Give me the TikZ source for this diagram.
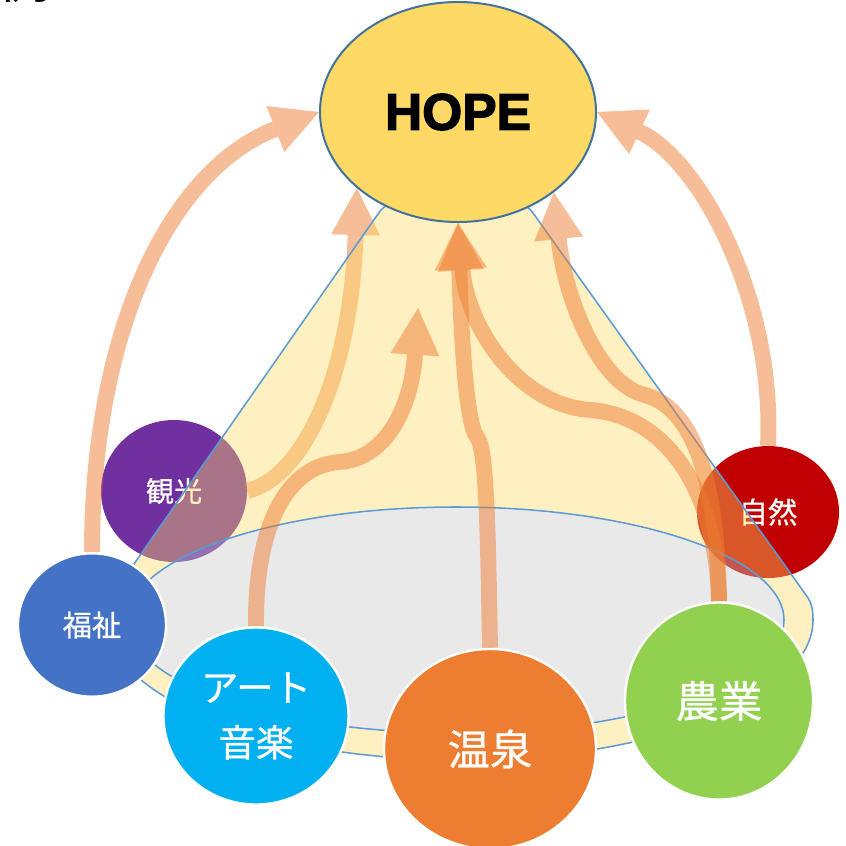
\documentclass[tikz,border=0pt]{standalone}
\usepackage{fontspec}
\newfontfamily\jp{Noto Sans CJK JP}[FakeBold=0.7]
\newfontfamily\hopefont{Liberation Sans}[BoldFeatures={FakeBold=2.5}]
\usepackage{xcolor}
\usepackage{tikz}
\usetikzlibrary{shapes.geometric,arrows.meta,backgrounds}
\definecolor{hopeyellow}{HTML}{FFD966}
\definecolor{hopeline}{HTML}{41719C}
\definecolor{coneline}{HTML}{5B9BD5}
\definecolor{ringgray}{HTML}{CBCBCB}
\definecolor{flowcol}{HTML}{ED7D31}
\definecolor{kankocol}{HTML}{7030A0}
\definecolor{shizencol}{HTML}{C00000}
\definecolor{fukucol}{HTML}{4472C4}
\definecolor{artcol}{HTML}{00B0F0}
\definecolor{onsencol}{HTML}{ED7D31}
\definecolor{nogyocol}{HTML}{92D050}

\begin{document}
\begin{tikzpicture}[x=0.03cm,y=-0.03cm,
    topic/.style={ellipse,inner sep=0pt,text=white,align=center},
    ringed/.style={topic,draw=white,line width=2pt},
    flow/.style={draw=flowcol,line width=13.6pt,opacity=0.5,-{Triangle[length=40pt,width=42pt,line width=0pt]}},
    edgeline/.style={draw=coneline,line width=1.3pt}]
    \useasboundingbox (0,0) rectangle (846,846);
    \node (note) [anchor=base west,inner sep=0pt,font=\jp\fontsize{44pt}{50pt}\selectfont] at (-2,-2.5) {例えている};
    \node (hope) [ellipse,draw=hopeline,line width=1.7pt,fill=hopeyellow,inner sep=0pt,
        minimum width=8.28cm,minimum height=6.6cm,font=\hopefont\bfseries\fontsize{44pt}{48pt}\selectfont] at (458,112) {HOPE};
    \node (fuku) [ringed,fill=fukucol,minimum width=4.44cm,minimum height=4.3cm,font=\jp\fontsize{25pt}{30pt}\selectfont] at (92,625) {福祉};
    \node (art) [ringed,fill=artcol,minimum width=5.55cm,minimum height=5.31cm,font=\jp\fontsize{32pt}{47pt}\selectfont] at (256,716) {アート\\音楽};
    \node (onsen) [ringed,fill=onsencol,minimum width=6.36cm,minimum height=6cm,font=\jp\fontsize{36pt}{42pt}\selectfont] at (490,749) {温泉};
    \node (nogyo) [ringed,fill=nogyocol,minimum width=5.64cm,minimum height=5.91cm,font=\jp\fontsize{37pt}{44pt}\selectfont] at (719,701) {農業};
    \begin{pgfonlayer}{background}
    \node (kanko) [topic,fill=kankocol,minimum width=4.38cm,minimum height=4.26cm,font=\jp\fontsize{24pt}{29pt}\selectfont] at (174,491) {観光};
    \node (shizen) [topic,fill=shizencol,minimum width=4.26cm,minimum height=3.96cm,font=\jp\fontsize{25pt}{30pt}\selectfont] at (768,512) {自然};
    \draw[flow] (kanko.east) .. controls (310,475) and (352,360) .. (hope.217);
    \path[fill=hopeyellow,fill opacity=0.4,even odd rule]
        (120,584) -- (378,214) .. controls (385,204) and (390,203) .. (400,203) -- (512,203)
        .. controls (522,203) and (527,205) .. (533,213) -- (806,595) .. controls (812,603) and (813,610) .. (813,620)
        .. controls (813,697) and (655,760) .. (460,760) .. controls (265,760) and (107,697) .. (107,620) -- cycle
        (456,620) ellipse [x radius=9.84cm,y radius=3.39cm];
    \fill[ringgray,opacity=0.42] (456,620) ellipse [x radius=9.84cm,y radius=3.39cm];
    \draw[edgeline] (120,584) -- (378,214) .. controls (385,204) and (390,203) .. (400,203) -- (512,203)
        .. controls (522,203) and (527,205) .. (533,213) -- (806,595) .. controls (812,603) and (813,610) .. (813,620)
        .. controls (813,697) and (655,760) .. (460,760) .. controls (265,760) and (107,697) .. (107,620) -- cycle;
    \draw[edgeline] (456,620) ellipse [x radius=9.84cm,y radius=3.39cm];
    \coordinate (artend) at (418,308);
    \draw[flow] (fuku.north) .. controls (92,330) and (170,170) .. (hope.west);
    \draw[flow] (art.north) .. controls (255,520) and (290,465) .. (340,462) .. controls (390,458) and (412,400) .. (artend);
    \draw[flow] (onsen.north) .. controls (488,540) and (487,448) .. (477,437) .. controls (466,425) and (461,330) .. (hope.south);
    \draw[flow] (nogyo.north) .. controls (716,480) and (660,415) .. (590,410) .. controls (520,405) and (468,330) .. (hope.south);
    \draw[flow] (nogyo.north) .. controls (718,500) and (700,410) .. (645,395) .. controls (600,385) and (565,300) .. (hope.320);
    \draw[flow] (shizen.north) .. controls (775,300) and (700,160) .. (hope.east);
    \end{pgfonlayer}
\end{tikzpicture}
\end{document}
